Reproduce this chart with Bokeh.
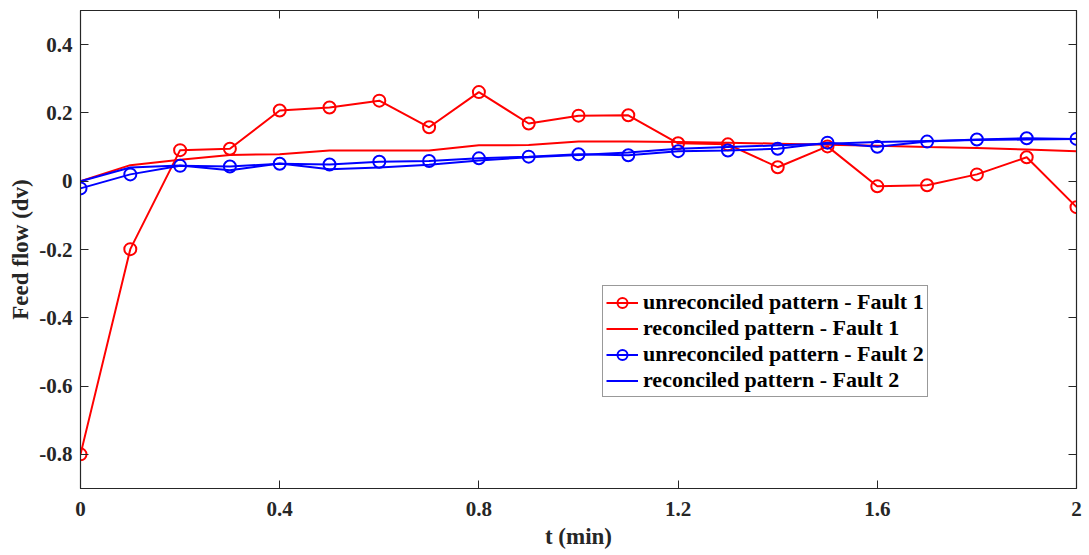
from bokeh.plotting import figure
from bokeh.embed import file_html
from bokeh.resources import INLINE
from bokeh.models import (Range1d, FixedTicker, LinearAxis, CustomJSTickFormatter,
                          Legend, LegendItem)

t = [0.0, 0.1, 0.2, 0.3, 0.4, 0.5, 0.6, 0.7, 0.8, 0.9, 1.0,
     1.1, 1.2, 1.3, 1.4, 1.5, 1.6, 1.7, 1.8, 1.9, 2.0]
unrec_f1 = [-0.800, -0.199, 0.091, 0.095, 0.207, 0.216, 0.236, 0.158, 0.261, 0.169, 0.192,
            0.193, 0.111, 0.108, 0.041, 0.102, -0.015, -0.012, 0.020, 0.070, -0.076]
rec_f1 = [0.0, 0.047, 0.063, 0.077, 0.079, 0.090, 0.090, 0.090, 0.105, 0.106, 0.116,
          0.116, 0.115, 0.113, 0.110, 0.107, 0.104, 0.100, 0.097, 0.093, 0.088]
unrec_f2 = [-0.021, 0.020, 0.045, 0.043, 0.051, 0.049, 0.057, 0.059, 0.067, 0.072, 0.079,
            0.076, 0.088, 0.090, 0.095, 0.113, 0.101, 0.116, 0.122, 0.126, 0.124]
rec_f2 = [0.0, 0.040, 0.046, 0.032, 0.052, 0.035, 0.040, 0.048, 0.061, 0.070, 0.077,
          0.084, 0.095, 0.100, 0.105, 0.110, 0.115, 0.118, 0.121, 0.122, 0.124]

x_ticks = [0, 0.4, 0.8, 1.2, 1.6, 2.0]
y_ticks = [-0.8, -0.6, -0.4, -0.2, 0, 0.2, 0.4]
labels = ["unreconciled pattern - Fault 1", "reconciled pattern - Fault 1",
          "unreconciled pattern - Fault 2", "reconciled pattern - Fault 2"]

FONT = "Liberation Serif"
AX = "#262626"

p = figure(width=1089, height=555, output_backend="svg", toolbar_location=None,
           x_range=Range1d(0, 2), y_range=Range1d(-0.9, 0.5),
           min_border_left=80, min_border_right=13, min_border_top=10, min_border_bottom=67)
p.xgrid.visible = False
p.ygrid.visible = False
p.outline_line_color = AX
p.outline_line_width = 1.2

fmt = CustomJSTickFormatter(code="return Number(tick.toFixed(1)).toString();")
blank = CustomJSTickFormatter(code="return '';")

for ax in (p.xaxis[0], p.yaxis[0]):
    ax.formatter = fmt
    ax.major_tick_in = 8
    ax.major_tick_out = 0
    ax.minor_tick_in = 0
    ax.minor_tick_out = 0
    ax.axis_line_color = AX
    ax.major_tick_line_color = AX
    ax.major_label_text_font = FONT
    ax.major_label_text_font_style = "bold"
    ax.major_label_text_font_size = "21px"
    ax.major_label_text_color = AX
    ax.axis_label_text_font = FONT
    ax.axis_label_text_font_style = "bold"
    ax.axis_label_text_font_size = "23px"
    ax.axis_label_text_color = AX
p.xaxis[0].ticker = FixedTicker(ticks=x_ticks)
p.yaxis[0].ticker = FixedTicker(ticks=y_ticks)
p.xaxis[0].axis_label = "t (min)"
p.yaxis[0].axis_label = "Feed flow (dv)"
p.xaxis[0].major_label_standoff = 13
p.yaxis[0].major_label_standoff = 8
p.xaxis[0].axis_label_standoff = 5
p.yaxis[0].axis_label_standoff = 3

for side, tk in (("right", y_ticks), ("above", x_ticks)):
    a = LinearAxis(ticker=FixedTicker(ticks=tk), formatter=blank,
                   major_tick_in=8, major_tick_out=0, minor_tick_in=0, minor_tick_out=0,
                   axis_line_color=AX, major_tick_line_color=AX, major_label_standoff=0)
    p.add_layout(a, side)

r1l = p.line(t, unrec_f1, line_color="#ff0000", line_width=2)
r1m = p.scatter(t, unrec_f1, marker="circle", size=12, line_color="#ff0000",
                fill_color=None, line_width=2)
r2l = p.line(t, rec_f1, line_color="#ff0000", line_width=2)
r3l = p.line(t, unrec_f2, line_color="#0000ff", line_width=2)
r3m = p.scatter(t, unrec_f2, marker="circle", size=12, line_color="#0000ff",
                fill_color=None, line_width=2)
r4l = p.line(t, rec_f2, line_color="#0000ff", line_width=2)

legend = Legend(items=[
    LegendItem(label=labels[0], renderers=[r1l, r1m]),
    LegendItem(label=labels[1], renderers=[r2l]),
    LegendItem(label=labels[2], renderers=[r3l, r3m]),
    LegendItem(label=labels[3], renderers=[r4l]),
], location=(522, 91))
legend.label_text_font = FONT
legend.label_text_font_style = "bold"
legend.label_text_font_size = "22px"
legend.label_text_color = "black"
legend.border_line_color = "#333333"
legend.border_line_width = 1
legend.padding = 3
legend.spacing = 0
legend.margin = 0
legend.glyph_width = 32
legend.glyph_height = 25
legend.label_height = 25
legend.label_standoff = 5
legend.background_fill_alpha = 1
p.add_layout(legend, "center")

open("out.html", "w").write(file_html(p, INLINE))
